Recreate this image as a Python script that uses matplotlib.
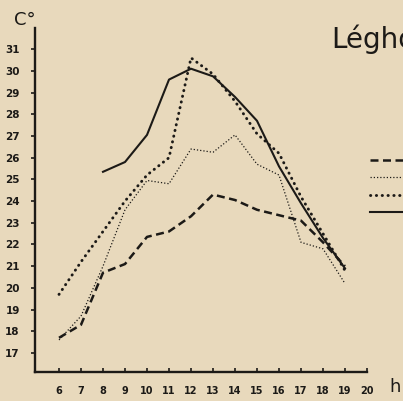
import matplotlib
matplotlib.use("Agg")
import matplotlib.pyplot as plt
from matplotlib.lines import Line2D

# ---- data ----
hours = [6, 7, 8, 9, 10, 11, 12, 13, 14, 15, 16, 17, 18, 19]
dashed_vals = [17.7, 18.3, 20.7, 21.1, 22.35, 22.6, 23.3, 24.3, 24.05, 23.6, 23.35, 23.1, 22.1, 21.0]
thin_dot_vals = [17.6, 18.7, 21.0, 23.6, 24.95, 24.8, 26.4, 26.25, 27.05, 25.7, 25.2, 22.1, 21.8, 20.2]
thick_dot_vals = [19.7, 21.2, 22.6, 24.0, 25.2, 26.0, 30.6, 29.85, 28.6, 27.1, 26.2, 24.2, 22.5, 20.8]
solid_hours = [8, 9, 10, 11, 12, 13, 14, 15, 16, 17, 18, 19]
solid_vals = [25.35, 25.8, 27.05, 29.6, 30.1, 29.75, 28.8, 27.7, 25.6, 23.9, 22.3, 20.9]

x_ticks = list(range(6, 21))
y_ticks = list(range(17, 32))
title_text = "Léghőmérséklet"
y_unit = "C°"
x_unit = "h"

# ---- style ----
bg = "#e8d9bc"
ink = "#1c1a17"
W, H = 403, 401
fig = plt.figure(figsize=(W / 100, H / 100), dpi=100, facecolor=bg)

left, right, bottom, top = 35, 367, 372, 28  # pixel coords of axes frame
ax = fig.add_axes([left / W, (H - bottom) / H, (right - left) / W, (bottom - top) / H])
ax.set_facecolor(bg)
ax.set_xlim(4.909, 20)
ax.set_ylim(16.124, 31.977)

for s in ["top", "right"]:
    ax.spines[s].set_visible(False)
for s in ["left", "bottom"]:
    ax.spines[s].set_linewidth(1.7)
    ax.spines[s].set_color(ink)

ax.set_xticks(x_ticks)
ax.set_xticklabels([str(t) for t in x_ticks], fontsize=7, fontweight="bold", color=ink)
ax.set_yticks(y_ticks)
ax.set_yticklabels([str(t) for t in y_ticks], fontsize=7.5, fontweight="bold", color=ink)
ax.tick_params(axis="x", direction="in", length=3, width=1.2, pad=10, colors=ink)
ax.tick_params(axis="y", direction="out", length=3, width=1.2, pad=8, colors=ink)

ax.plot(hours, dashed_vals, color=ink, lw=1.8, dashes=(3.2, 1.8))
ax.plot(hours, thin_dot_vals, color=ink, lw=0.9, dashes=(1, 1.6))
ax.plot(hours, thick_dot_vals, color=ink, lw=2.1, dashes=(0.1, 1.9), dash_capstyle="round")
ax.plot(solid_hours, solid_vals, color=ink, lw=1.5)

# ---- legend samples (cut off at the right edge) ----
leg_y = [160, 177, 195, 212]
leg_styles = [dict(lw=1.8, dashes=(3.2, 1.8)),
              dict(lw=0.9, dashes=(1, 1.6)),
              dict(lw=2.1, dashes=(0.1, 1.9), dash_capstyle="round"),
              dict(lw=1.5)]
for yy, st in zip(leg_y, leg_styles):
    fig.add_artist(Line2D([370 / W, 1.0], [1 - yy / H, 1 - yy / H], color=ink, **st))

# ---- texts ----
fig.text(331 / W, 1 - 48 / H, title_text, fontsize=20, color=ink, ha="left", va="baseline",
         family="DejaVu Sans")
fig.text(14 / W, 1 - 25 / H, y_unit, fontsize=13, color=ink, ha="left", va="baseline")
fig.text(389 / W, 1 - 392 / H, x_unit, fontsize=13, color=ink, ha="left", va="baseline")

fig.savefig("out.png", dpi=100, facecolor=bg)
